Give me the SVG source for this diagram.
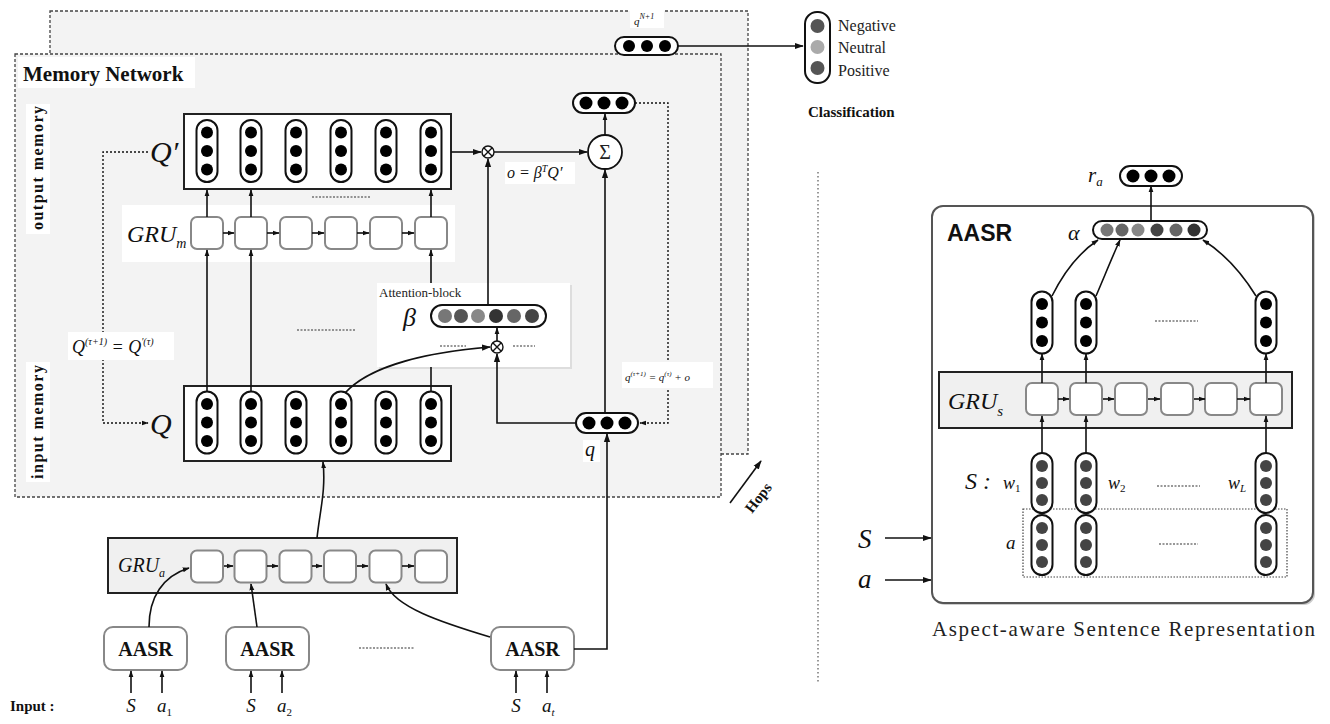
<svg xmlns="http://www.w3.org/2000/svg" width="1330" height="724" viewBox="0 0 1330 724">
<style>
.panel{fill:#f3f3f3;stroke:#444;stroke-width:1.3;stroke-dasharray:3,2}
.box{fill:#fff;stroke:#222;stroke-width:2}
.gbox{fill:#f0f0f0;stroke:#222;stroke-width:2}
.pill{fill:#fff;stroke:#111;stroke-width:2}
.cell{fill:#fff;stroke:#888;stroke-width:2}
.ln{fill:none;stroke:#111;stroke-width:1.6}
.dot{fill:none;stroke:#111;stroke-width:1.4;stroke-dasharray:2,2}
.dl{fill:none;stroke:#333;stroke-width:1.2;stroke-dasharray:2,1.5}
.it{font-family:"Liberation Serif",serif;font-style:italic;fill:#111}
.rm{font-family:"Liberation Serif",serif;fill:#222}
.bd{font-family:"Liberation Serif",serif;font-weight:bold;fill:#111}
.wb{fill:#fff}
.ah{fill:#111;stroke:none}
</style>
<defs>
<marker id="ah" viewBox="0 0 10 10" refX="9" refY="5" markerWidth="9" markerHeight="9" markerUnits="userSpaceOnUse" orient="auto"><path d="M0,1.5 L10,5 L0,8.5 z" class="ah"/></marker>
<marker id="as" viewBox="0 0 10 10" refX="9" refY="5" markerWidth="7" markerHeight="7" markerUnits="userSpaceOnUse" orient="auto"><path d="M0,1.5 L10,5 L0,8.5 z" class="ah"/></marker>
<g id="vp"><rect x="-10.5" y="-31" width="21" height="62" rx="10.5" class="pill"/><circle cy="-18.5" r="6" fill="#000"/><circle r="6" fill="#000"/><circle cy="18.5" r="6" fill="#000"/></g>
<g id="vpg"><rect x="-10.5" y="-30" width="21" height="60" rx="10.5" class="pill"/><circle cy="-17" r="6" fill="#444"/><circle r="6" fill="#444"/><circle cy="17" r="6" fill="#444"/></g>
<g id="hp"><rect x="-31" y="-10" width="62" height="20" rx="10" class="pill"/><circle cx="-18" r="6.5" fill="#000"/><circle r="6.5" fill="#000"/><circle cx="18" r="6.5" fill="#000"/></g>
<rect id="cl" x="-16" y="-16" width="32" height="32" rx="6" class="cell"/>
</defs>
<rect width="1330" height="724" fill="#fff"/>

<g id="panel-back"><rect x="50" y="11" width="698" height="443" class="panel"/></g>
<g id="panel-front"><rect x="15" y="54" width="706" height="443" class="panel"/></g>

<g id="memory-network-label">
<rect x="18" y="57" width="177" height="31" class="wb"/>
<text x="23" y="81" class="bd" font-size="21">Memory Network</text>
</g>
<g id="output-memory-label">
<rect x="26" y="104" width="24" height="130" class="wb"/>
<text transform="translate(43,168) rotate(-90)" text-anchor="middle" class="bd" font-size="16" textLength="124">output memory</text>
</g>
<g id="input-memory-label">
<rect x="26" y="362" width="24" height="120" class="wb"/>
<text transform="translate(43,422) rotate(-90)" text-anchor="middle" class="bd" font-size="16" textLength="114">input memory</text>
</g>

<g id="gru-m-band"><rect x="122" y="205" width="333" height="57" class="wb"/></g>

<g id="output-memory">
<rect x="184" y="114" width="267" height="75" class="box"/>
<use href="#vp" x="207" y="151"/><use href="#vp" x="251" y="151"/><use href="#vp" x="296" y="151"/>
<use href="#vp" x="341" y="151"/><use href="#vp" x="386" y="151"/><use href="#vp" x="431" y="151"/>
<text x="150" y="162" class="it" font-size="30">Q′</text>
<path d="M312,197 H370" class="dl"/>
</g>

<g id="gru-m">
<use href="#cl" x="207" y="233"/><use href="#cl" x="251" y="233"/><use href="#cl" x="296" y="233"/>
<use href="#cl" x="341" y="233"/><use href="#cl" x="386" y="233"/><use href="#cl" x="431" y="233"/>
<text x="127" y="242" class="it" font-size="24">GRU<tspan font-size="14" dy="6">m</tspan></text>
</g>

<g id="input-memory">
<rect x="184" y="386" width="267" height="75" class="box"/>
<use href="#vp" x="207" y="422.5"/><use href="#vp" x="251" y="422.5"/><use href="#vp" x="296" y="422.5"/>
<use href="#vp" x="341" y="422.5"/><use href="#vp" x="386" y="422.5"/><use href="#vp" x="431" y="422.5"/>
<text x="150" y="434" class="it" font-size="30">Q</text>
<path d="M297,330 H355" class="dl"/>
</g>

<g id="attention-block">
<rect x="379" y="285" width="193" height="84" fill="#ddd"/>
<rect x="377" y="283" width="193" height="84" fill="#fff"/>
<text x="379" y="297" class="rm" font-size="13">Attention-block</text>
<text x="403" y="326" class="it" font-size="26">β</text>
<rect x="431" y="305" width="115" height="22" rx="11" class="pill"/>
<circle cx="445" cy="316" r="7" fill="#777"/><circle cx="461" cy="316" r="7" fill="#555"/><circle cx="478" cy="316" r="7" fill="#888"/>
<circle cx="496" cy="316" r="7" fill="#333"/><circle cx="514" cy="316" r="7" fill="#666"/><circle cx="532" cy="316" r="7" fill="#444"/>
<path d="M440,346 H466 M513,346 H535" class="dl"/>
<circle cx="497" cy="347" r="6" fill="#fff" stroke="#111" stroke-width="1.4"/><path d="M493,343 L501,351 M501,343 L493,351" stroke="#111" stroke-width="1.4"/>
</g>

<g id="otimes-top"><circle cx="488" cy="152" r="6" fill="#fff" stroke="#111" stroke-width="1.4"/><path d="M484,148 L492,156 M492,148 L484,156" stroke="#111" stroke-width="1.4"/></g>
<g id="sum"><circle cx="605" cy="152" r="17" fill="#fff" stroke="#111" stroke-width="1.8"/><text x="605" y="159" text-anchor="middle" class="rm" font-size="20">Σ</text></g>
<g id="output-vector"><use href="#hp" x="604" y="103"/></g>
<g id="q-vector"><use href="#hp" x="607" y="423"/></g>
<g id="qN1">
<rect x="615" y="37" width="63" height="18" rx="9" class="pill"/>
<circle cx="629" cy="46" r="6" fill="#000"/><circle cx="647" cy="46" r="6" fill="#000"/><circle cx="665" cy="46" r="6" fill="#000"/>
</g>

<g id="classification">
<rect x="805" y="12" width="25" height="71" rx="12" class="pill"/>
<circle cx="817.5" cy="26" r="7" fill="#555"/><circle cx="817.5" cy="47" r="7" fill="#aaa"/><circle cx="817.5" cy="68" r="7" fill="#555"/>
<text x="838" y="31" class="rm" font-size="16">Negative</text>
<text x="838" y="53" class="rm" font-size="16">Neutral</text>
<text x="838" y="76" class="rm" font-size="16">Positive</text>
<text x="808" y="117" class="bd" font-size="15">Classification</text>
</g>

<g id="hops"><text transform="translate(752,514) rotate(-52)" class="bd" font-size="15">Hops</text></g>

<g id="gru-a">
<rect x="108" y="538" width="349" height="55" class="gbox"/>
<use href="#cl" x="207" y="566.5"/><use href="#cl" x="250.5" y="566.5"/><use href="#cl" x="295.5" y="566.5"/>
<use href="#cl" x="340" y="566.5"/><use href="#cl" x="385.5" y="566.5"/><use href="#cl" x="431" y="566.5"/>
<text x="118" y="572" class="it" font-size="20">GRU<tspan font-size="12" dy="5">a</tspan></text>
</g>

<g id="aasr1"><rect x="104" y="627" width="83" height="43" rx="9" class="cell" stroke="#666"/><text x="145.5" y="656" text-anchor="middle" class="bd" font-size="20">AASR</text></g>
<g id="aasr2"><rect x="226" y="627" width="83" height="43" rx="9" class="cell" stroke="#666"/><text x="267.5" y="656" text-anchor="middle" class="bd" font-size="20">AASR</text></g>
<g id="aasr3"><rect x="491" y="627" width="83" height="43" rx="9" class="cell" stroke="#666"/><text x="532.5" y="656" text-anchor="middle" class="bd" font-size="20">AASR</text></g>
<path d="M359,648 H415" class="dl"/>

<g id="inputs">
<text x="10" y="711" class="bd" font-size="15">Input :</text>
<text x="131" y="712" text-anchor="middle" class="it" font-size="19">S</text>
<text x="157" y="712" class="it" font-size="19">a<tspan font-size="11" dy="4" font-style="normal">1</tspan></text>
<text x="251" y="712" text-anchor="middle" class="it" font-size="19">S</text>
<text x="277" y="712" class="it" font-size="19">a<tspan font-size="11" dy="4" font-style="normal">2</tspan></text>
<text x="516" y="712" text-anchor="middle" class="it" font-size="19">S</text>
<text x="542" y="712" class="it" font-size="19">a<tspan font-size="11" dy="4">t</tspan></text>
</g>

<g id="aasr-detail">
<rect x="934" y="208" width="381" height="397" rx="11" fill="#ccc"/>
<rect x="932" y="206" width="381" height="397" rx="11" fill="#fff" stroke="#555" stroke-width="2"/>
<text x="947" y="241" font-family="Liberation Sans, sans-serif" font-weight="bold" font-size="23" fill="#111">AASR</text>
</g>
<g id="r-a"><use href="#hp" x="1151" y="176"/><text x="1088" y="182" class="it" font-size="21">r<tspan font-size="13" dy="4">a</tspan></text></g>
<g id="alpha">
<text x="1068" y="240" class="it" font-size="22">α</text>
<rect x="1093" y="221" width="114" height="18" rx="9" class="pill"/>
<circle cx="1107" cy="230" r="6.5" fill="#777"/><circle cx="1122" cy="230" r="6.5" fill="#666"/><circle cx="1138" cy="230" r="6.5" fill="#888"/>
<circle cx="1157" cy="230" r="6.5" fill="#444"/><circle cx="1176" cy="230" r="6.5" fill="#666"/><circle cx="1194" cy="230" r="6.5" fill="#333"/>
</g>
<g id="hidden-states">
<use href="#vp" x="1042" y="322.5"/><use href="#vp" x="1086" y="322.5"/><use href="#vp" x="1266" y="322.5"/>
<path d="M1155,321 H1198" class="dl"/>
</g>
<g id="gru-s">
<rect x="939" y="372" width="353" height="56" class="gbox"/>
<use href="#cl" x="1042" y="399"/><use href="#cl" x="1086" y="399"/><use href="#cl" x="1131" y="399"/>
<use href="#cl" x="1177" y="399"/><use href="#cl" x="1221" y="399"/><use href="#cl" x="1266" y="399"/>
<text x="948" y="409" class="it" font-size="24">GRU<tspan font-size="15" dy="7">s</tspan></text>
</g>
<g id="sentence-aspect">
<rect x="1023" y="509" width="264" height="68" fill="none" stroke="#444" stroke-width="1.2" stroke-dasharray="1.5,1.5"/>
<use href="#vpg" x="1042" y="483"/><use href="#vpg" x="1086" y="483"/><use href="#vpg" x="1266" y="483"/>
<use href="#vpg" x="1042" y="545"/><use href="#vpg" x="1086" y="545"/><use href="#vpg" x="1266" y="545"/>
<text x="965" y="489" class="it" font-size="24">S :</text>
<text x="1003" y="489" class="it" font-size="18">w<tspan font-size="11" dy="3" font-style="normal">1</tspan></text>
<text x="1108" y="489" class="it" font-size="18">w<tspan font-size="11" dy="3" font-style="normal">2</tspan></text>
<text x="1228" y="489" class="it" font-size="18">w<tspan font-size="11" dy="3">L</tspan></text>
<text x="1006" y="549" class="it" font-size="19">a</text>
<path d="M1157,486 H1200 M1159,544 H1198" class="dl"/>
</g>
<g id="aasr-inputs">
<text x="858" y="548" class="it" font-size="27">S</text>
<text x="858" y="588" class="it" font-size="27">a</text>
</g>
<text x="932" y="636" class="rm" font-size="21" textLength="383">Aspect-aware Sentence Representation</text>

<g id="connectors">
<path d="M223,233 H234" class="ln" marker-end="url(#as)"/>
<path d="M267,233 H279" class="ln" marker-end="url(#as)"/>
<path d="M312,233 H324" class="ln" marker-end="url(#as)"/>
<path d="M357,233 H369" class="ln" marker-end="url(#as)"/>
<path d="M402,233 H414" class="ln" marker-end="url(#as)"/>
<path d="M207,217 V190" class="ln" marker-end="url(#as)"/>
<path d="M251,217 V190" class="ln" marker-end="url(#as)"/>
<path d="M431,217 V190" class="ln" marker-end="url(#as)"/>
<path d="M207,391 V250" class="ln" marker-end="url(#as)"/>
<path d="M251,391 V250" class="ln" marker-end="url(#as)"/>
<path d="M431,391 V367" class="ln"/>
<path d="M431,283 V250" class="ln" marker-end="url(#as)"/>
<path d="M451,152 H481" class="ln" marker-end="url(#ah)"/>
<path d="M494,152 H587" class="ln" marker-end="url(#ah)"/>
<path d="M488,305 V159" class="ln" marker-end="url(#ah)"/>
<path d="M605,135 V114" class="ln" marker-end="url(#as)"/>
<path d="M605,413 V170" class="ln" marker-end="url(#ah)"/>
<path d="M345,393 C370,365 430,352 490,347" class="ln" marker-end="url(#ah)"/>
<path d="M576,423 H497 V354" class="ln" marker-end="url(#ah)"/>
<path d="M497,341 V328" class="ln" marker-end="url(#as)"/>
<path d="M635,103 H668 V423 H640" class="dot" marker-end="url(#as)"/>
<path d="M148,152 H103 V423 H148" class="dot" marker-end="url(#as)"/>
<path d="M678,46 H803" class="ln" marker-end="url(#ah)"/>
<path d="M317,538 C320,510 326,490 323,462" class="ln" marker-end="url(#as)"/>
<path d="M224,566 H233" class="ln" marker-end="url(#as)"/>
<path d="M267,566 H278" class="ln" marker-end="url(#as)"/>
<path d="M312,566 H322" class="ln" marker-end="url(#as)"/>
<path d="M357,566 H368" class="ln" marker-end="url(#as)"/>
<path d="M402,566 H414" class="ln" marker-end="url(#as)"/>
<path d="M149,627 C149,597 163,576 189,568" class="ln" marker-end="url(#as)"/>
<path d="M257,627 L251,584" class="ln" marker-end="url(#as)"/>
<path d="M490,637 C440,622 395,607 386,584" class="ln" marker-end="url(#as)"/>
<path d="M574,649 H607 V434" class="ln" marker-end="url(#ah)"/>
<path d="M131,693 V671" class="ln" marker-end="url(#as)"/>
<path d="M162,693 V671" class="ln" marker-end="url(#as)"/>
<path d="M251,693 V671" class="ln" marker-end="url(#as)"/>
<path d="M282,693 V671" class="ln" marker-end="url(#as)"/>
<path d="M516,693 V671" class="ln" marker-end="url(#as)"/>
<path d="M547,693 V671" class="ln" marker-end="url(#as)"/>
<path d="M730,503 L761,461" class="ln" marker-end="url(#ah)"/>
<path d="M818,172 V682" fill="none" stroke="#555" stroke-width="1.2" stroke-dasharray="1.5,2.5"/>
<path d="M1151,221 V186" class="ln" marker-end="url(#as)"/>
<path d="M1052,296 C1065,270 1080,252 1098,240" class="ln" marker-end="url(#as)"/>
<path d="M1096,296 C1105,275 1113,255 1120,240" class="ln" marker-end="url(#as)"/>
<path d="M1256,296 C1240,270 1222,252 1203,240" class="ln" marker-end="url(#as)"/>
<path d="M1042,383 V354" class="ln" marker-end="url(#as)"/>
<path d="M1086,383 V354" class="ln" marker-end="url(#as)"/>
<path d="M1266,383 V354" class="ln" marker-end="url(#as)"/>
<path d="M1058,399 H1069" class="ln" marker-end="url(#as)"/>
<path d="M1103,399 H1114" class="ln" marker-end="url(#as)"/>
<path d="M1148,399 H1160" class="ln" marker-end="url(#as)"/>
<path d="M1194,399 H1205" class="ln" marker-end="url(#as)"/>
<path d="M1237,399 H1250" class="ln" marker-end="url(#as)"/>
<path d="M1042,453 V416" class="ln" marker-end="url(#as)"/>
<path d="M1086,453 V416" class="ln" marker-end="url(#as)"/>
<path d="M1266,453 V416" class="ln" marker-end="url(#as)"/>
<path d="M885,538 H931" class="ln" marker-end="url(#ah)"/>
<path d="M885,580 H931" class="ln" marker-end="url(#ah)"/>
</g>

<g id="q-update-label">
<rect x="68" y="332" width="106" height="28" class="wb"/>
<text x="72" y="353" class="it" font-size="18">Q<tspan font-size="10" dy="-8">(τ+1)</tspan><tspan dy="8"> = Q</tspan><tspan font-size="10" dy="-8">′(τ)</tspan></text>
</g>
<g id="o-label">
<rect x="505" y="162" width="70" height="22" class="wb"/>
<text x="507" y="178" class="it" font-size="16">o = β<tspan font-size="10" dy="-6">T</tspan><tspan dy="6">Q′</tspan></text>
</g>
<g id="q-label"><rect x="583" y="440" width="17" height="22" class="wb"/><text x="585" y="456" class="it" font-size="20">q</text></g>
<g id="q-update-label2">
<rect x="622" y="362" width="91" height="26" class="wb"/>
<text x="625" y="381" class="it" font-size="11">q<tspan font-size="7" dy="-5">(τ+1)</tspan><tspan dy="5"> = q</tspan><tspan font-size="7" dy="-5">(τ)</tspan><tspan dy="5"> + o</tspan></text>
</g>
<g id="qN1-label">
<rect x="630" y="8" width="34" height="20" class="wb"/>
<text x="634" y="25" class="it" font-size="11">q<tspan font-size="8" dy="-6">N+1</tspan></text>
</g>
</svg>
